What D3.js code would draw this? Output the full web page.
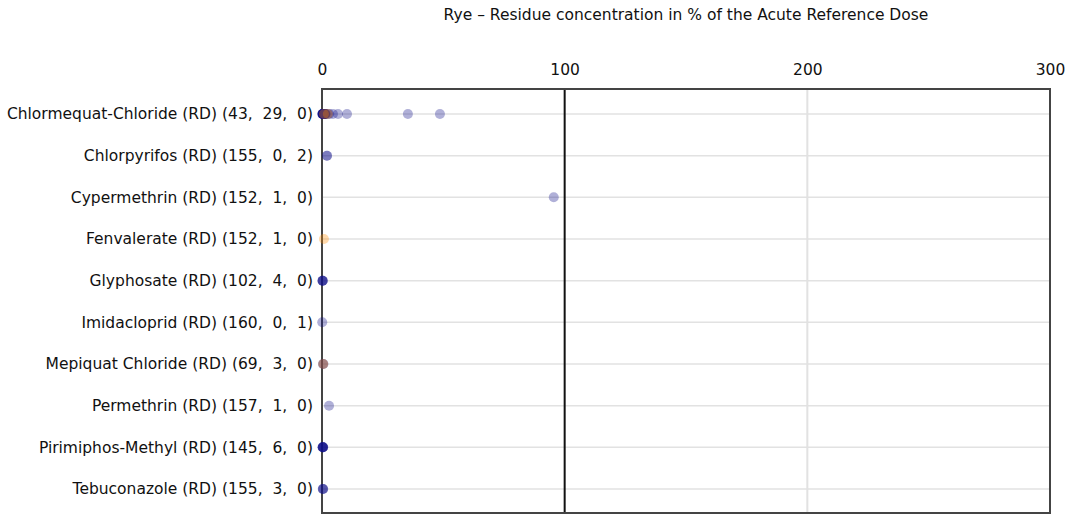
<!DOCTYPE html>
<html>
<head>
<meta charset="utf-8">
<script src="https://cdn.jsdelivr.net/npm/d3@7"></script>
<style>
  body { margin: 0; background: #fff; }
  text { font-family: "DejaVu Sans", sans-serif; fill: #111; white-space: pre; }
</style>
</head>
<body>
<div id="chart"></div>
<script>
const title = "Rye \u2013 Residue concentration in % of the Acute Reference Dose";

const substances = [
  "Chlormequat-Chloride (RD) (43,  29,  0)",
  "Chlorpyrifos (RD) (155,  0,  2)",
  "Cypermethrin (RD) (152,  1,  0)",
  "Fenvalerate (RD) (152,  1,  0)",
  "Glyphosate (RD) (102,  4,  0)",
  "Imidacloprid (RD) (160,  0,  1)",
  "Mepiquat Chloride (RD) (69,  3,  0)",
  "Permethrin (RD) (157,  1,  0)",
  "Pirimiphos-Methyl (RD) (145,  6,  0)",
  "Tebuconazole (RD) (155,  3,  0)"
];

// % ARfD values per substance (blue dots)
const blueValues = [
  [0.1, 0.2, 0.2, 0.3, 0.3, 0.4, 0.5, 0.5, 0.6, 0.7, 0.8, 0.9, 1.0, 1.1, 1.2, 1.3, 1.4, 1.5, 0.3, 0.6, 2.5, 3.0, 4.5, 6.6, 10.3, 35.4, 48.6],
  [2.0, 2.1],
  [95.5],
  [],
  [0.2, 0.2, 0.3, 0.3],
  [0.1],
  [0.4, 0.6],
  [2.9],
  [0.2, 0.3, 0.3, 0.4, 0.4, 0.5],
  [0.3, 0.4, 0.5]
];

// orange dots
const orangeValues = [
  [0.8, 2.4],
  [],
  [],
  [0.8],
  [],
  [],
  [0.5],
  [],
  [],
  []
];

const xTicks = [0, 100, 200, 300];

const margin = { top: 89, right: 20, bottom: 2, left: 322 },
  width = 1070 - margin.left - margin.right,
  height = 515 - margin.top - margin.bottom;

const svg = d3
  .select("#chart")
  .append("svg")
  .attr("width", 1070)
  .attr("height", 515);

svg
  .append("text")
  .attr("x", 686)
  .attr("y", 20)
  .attr("text-anchor", "middle")
  .style("font-size", "15.5px")
  .text(title);

const g = svg
  .append("g")
  .attr("transform", "translate(" + margin.left + "," + margin.top + ")");

const xScale = d3.scaleLinear().domain([0, 300]).range([0, width]);
const yScale = d3
  .scalePoint()
  .domain(substances)
  .range([25, height - 24]);

// horizontal grid
g.append("g")
  .selectAll("line")
  .data(substances)
  .join("line")
  .attr("x1", 0)
  .attr("x2", width)
  .attr("y1", (d) => yScale(d))
  .attr("y2", (d) => yScale(d))
  .attr("stroke", "#e2e2e2")
  .attr("stroke-width", 1.5);

// vertical grid at 200
g.append("line")
  .attr("x1", xScale(200))
  .attr("x2", xScale(200))
  .attr("y1", 0)
  .attr("y2", height)
  .attr("stroke", "#e2e2e2")
  .attr("stroke-width", 2);

// reference line at 100 %
g.append("line")
  .attr("x1", xScale(100))
  .attr("x2", xScale(100))
  .attr("y1", 0)
  .attr("y2", height)
  .attr("stroke", "#111")
  .attr("stroke-width", 2);

// top tick labels
const xAxis = d3.axisTop(xScale).tickValues(xTicks).tickSize(0).tickPadding(14);
const xAxisG = g.append("g").call(xAxis);
xAxisG.select(".domain").remove();
xAxisG.selectAll("text").style("font-size", "15.5px").attr("fill", "#111");

// left labels
const yAxis = d3.axisLeft(yScale).tickSize(0).tickPadding(9);
const yAxisG = g.append("g").call(yAxis);
yAxisG.select(".domain").remove();
yAxisG.selectAll("text").style("font-size", "15.5px").attr("fill", "#111");

// frame
g.append("rect")
  .attr("x", 0)
  .attr("y", 0)
  .attr("width", width)
  .attr("height", height)
  .attr("fill", "none")
  .attr("stroke", "#444")
  .attr("stroke-width", 2);

const points = [];
substances.forEach((s, i) => {
  blueValues[i].forEach((v) => points.push({ s: s, v: v, c: "#10108a" }));
  orangeValues[i].forEach((v) => points.push({ s: s, v: v, c: "#ff8c00" }));
});

g.append("g")
  .selectAll("circle")
  .data(points)
  .join("circle")
  .attr("cx", (d) => xScale(d.v))
  .attr("cy", (d) => yScale(d.s))
  .attr("r", 5)
  .attr("fill", (d) => d.c)
  .attr("fill-opacity", 0.33);
</script>
</body>
</html>
